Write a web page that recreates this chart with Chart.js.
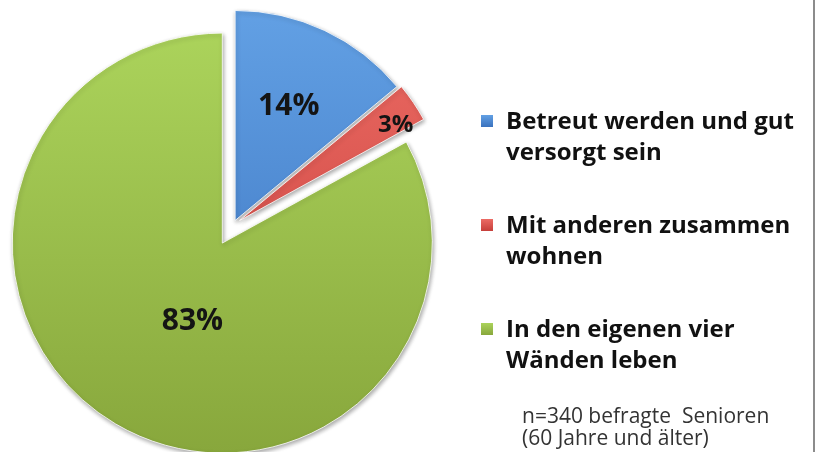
<!DOCTYPE html>
<html>
<head>
<meta charset="utf-8">
<script src="https://cdn.jsdelivr.net/npm/chart.js@4"></script>
<style>
  html, body { margin: 0; padding: 0; background: #fff; }
  #wrap { position: relative; width: 820px; height: 452px; overflow: hidden; }
  #pie { position: absolute; left: 0; top: 0; }
  #frame { position: absolute; left: 813px; top: 0; width: 2px; height: 452px; background: #8c8c8c; }
  #legend { position: absolute; left: 481px; top: 104px; font-family: "Open Sans"; font-weight: bold;
            font-size: 24px; line-height: 31px; color: #111; }
  .item { position: relative; padding-left: 25px; margin-bottom: 42px; }
  .box { position: absolute; left: 0; top: 11px; width: 12px; height: 12px; }
  #note { position: absolute; left: 522px; top: 404px; font-family: "Open Sans"; font-size: 21px;
          line-height: 22px; color: #333; white-space: pre; }
</style>
</head>
<body>
<div id="wrap">
  <canvas id="pie" width="820" height="452"></canvas>
  <div id="legend"></div>
  <div id="note">n=340 befragte  Senioren
(60 Jahre und älter)</div>
  <div id="frame"></div>
</div>
<script>
const categories = ['Betreut werden und gut versorgt sein', 'Mit anderen zusammen wohnen', 'In den eigenen vier Wänden leben'];
const legendLines = [['Betreut werden und gut', 'versorgt sein'], ['Mit anderen zusammen', 'wohnen'], ['In den eigenen vier', 'Wänden leben']];
const shares = [14, 3, 83];
const valueText = ['14%', '3%', '83%'];

// look
const topColors = ['#62a0e4', '#ec6b64', '#abd35b'];
const bottomColors = ['#3a72be', '#c63f3a', '#88a73c'];
const explode = [5, 8, 21];
const labelSize = [30, 24, 30];
const labelDist = [0.6, 0.87, 0.4];
const labelTurn = [0, 0.05, -0.17];
const pieRadius = 210;

// html legend
const legendBox = document.getElementById('legend');
legendLines.forEach(function(lines, i) {
  const item = document.createElement('div');
  item.className = 'item';
  item.innerHTML = '<span class="box" style="background:linear-gradient(' + topColors[i] + ',' + bottomColors[i] + ')"></span>' + lines.join('<br>');
  legendBox.appendChild(item);
});

function sliceFill(c) {
  const area = c.chart.chartArea;
  const i = c.dataIndex;
  if (!area) return topColors[i];
  const cy = (area.top + area.bottom) / 2;
  const g = c.chart.ctx.createLinearGradient(0, cy - pieRadius, 0, cy + pieRadius);
  g.addColorStop(0, topColors[i]);
  g.addColorStop(1, bottomColors[i]);
  return g;
}

// draws each slice pulled out from the centre, with a soft shadow
const explodedPie = {
  id: 'explodedPie',
  beforeDatasetDraw(chart, args) {
    const ctx = chart.ctx;
    args.meta.data.forEach(function(arc, i) {
      const mid = (arc.startAngle + arc.endAngle) / 2;
      ctx.save();
      ctx.translate(Math.cos(mid) * explode[i], Math.sin(mid) * explode[i]);
      ctx.shadowColor = 'rgba(0,0,0,0.35)';
      ctx.shadowBlur = 4;
      ctx.shadowOffsetX = 1;
      ctx.shadowOffsetY = 2;
      arc.draw(ctx);
      ctx.restore();
    });
    return false;
  },
  afterDatasetsDraw(chart) {
    const ctx = chart.ctx;
    chart.getDatasetMeta(0).data.forEach(function(arc, i) {
      const mid = (arc.startAngle + arc.endAngle) / 2;
      const cx = arc.x + Math.cos(mid) * explode[i];
      const cy = arc.y + Math.sin(mid) * explode[i];
      const a = mid + labelTurn[i];
      const r = arc.outerRadius * labelDist[i];
      ctx.save();
      ctx.font = 'bold ' + labelSize[i] + 'px "Open Sans"';
      ctx.fillStyle = '#141414';
      ctx.textAlign = 'center';
      ctx.textBaseline = 'middle';
      ctx.fillText(valueText[i], cx + Math.cos(a) * r, cy + Math.sin(a) * r);
      ctx.restore();
    });
  }
};

new Chart(document.getElementById('pie'), {
  type: 'pie',
  data: {
    labels: categories,
    datasets: [{
      data: shares,
      backgroundColor: sliceFill,
      borderColor: 'rgba(255,255,255,0.8)',
      borderWidth: 1
    }]
  },
  options: {
    responsive: false,
    animation: false,
    radius: pieRadius,
    layout: { padding: { left: 0, right: 354, top: 0, bottom: 2 } },
    plugins: {
      legend: { display: false },
      tooltip: { enabled: false }
    }
  },
  plugins: [explodedPie]
});
</script>
</body>
</html>
